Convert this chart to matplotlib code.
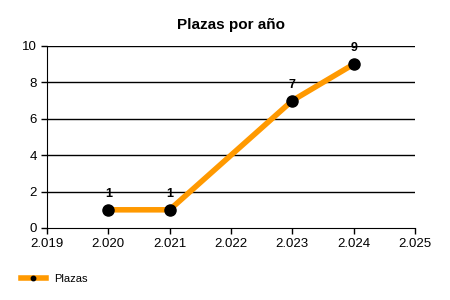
import matplotlib.pyplot as plt

years = [2020, 2021, 2023, 2024]
plazas = [1, 1, 7, 9]
xticks = [2019, 2020, 2021, 2022, 2023, 2024, 2025]
xtick_labels = ['2.019', '2.020', '2.021', '2.022', '2.023', '2.024', '2.025']
yticks = [0, 2, 4, 6, 8, 10]

plt.rcParams['font.family'] = ['Liberation Sans', 'DejaVu Sans']

fig = plt.figure(figsize=(4.5, 3), dpi=100)
ax = fig.add_axes([47 / 450, 1 - 228 / 300, 368 / 450, 182 / 300])

# horizontal grid lines
for y in yticks[1:]:
    ax.axhline(y, color='black', lw=1, zorder=1)

ax.plot(years, plazas, color='#FF9900', lw=4, marker='o', markersize=8,
        markerfacecolor='black', markeredgecolor='black', zorder=3, label='Plazas')

for x, y in zip(years, plazas):
    ax.annotate(str(y), (x, y), xytext=(0, 7), textcoords='offset points',
                ha='center', va='bottom', fontsize=9, fontweight='bold')

ax.set_xlim(2019, 2025)
ax.set_ylim(0, 10)
ax.set_xticks(xticks)
ax.set_xticklabels(xtick_labels)
ax.set_yticks(yticks)
ax.tick_params(labelsize=9.5, length=4, width=1, color='black')
ax.spines['top'].set_visible(False)
ax.spines['right'].set_visible(False)

ax.set_title('Plazas por año', fontsize=11, fontweight='bold', pad=12)

fig.legend(handles=ax.get_lines()[-1:], loc='lower left', bbox_to_anchor=(0.025, 0.02),
           frameon=False, fontsize=8, handlelength=2.2, markerscale=0.4)

fig.savefig('out.png', dpi=100)
